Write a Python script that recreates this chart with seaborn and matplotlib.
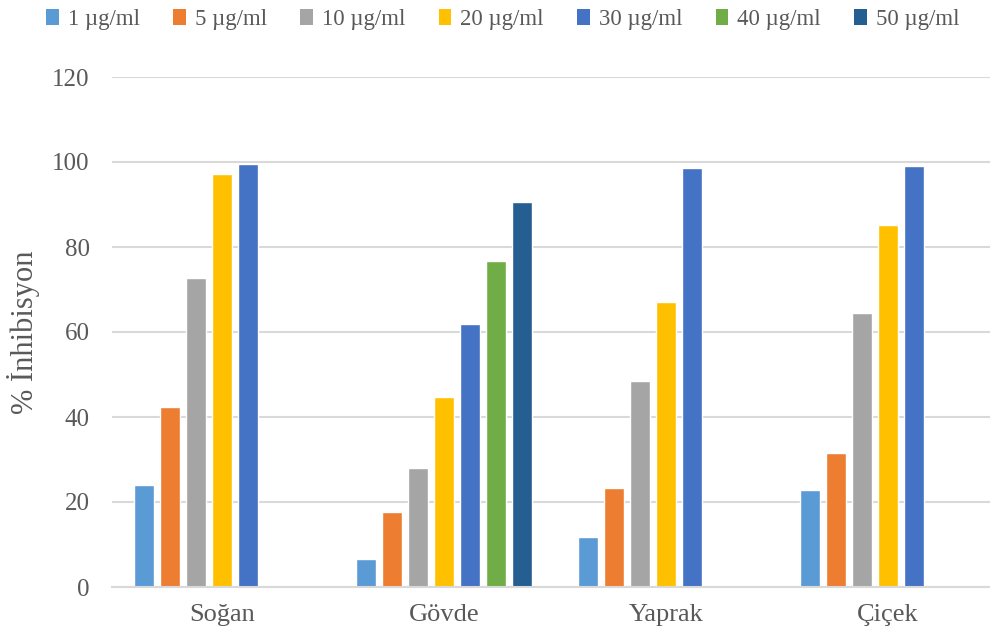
import matplotlib
matplotlib.use("Agg")
import matplotlib.pyplot as plt
from matplotlib.patches import Patch
import numpy as np
import pandas as pd
import seaborn as sns

categories = ["Soğan", "Gövde", "Yaprak", "Çiçek"]
doses = ["1 µg/ml", "5 µg/ml", "10 µg/ml", "20 µg/ml", "30 µg/ml", "40 µg/ml", "50 µg/ml"]

# % inhibition per plant part; NaN where a dose was not tested
dose_1 = [24.0, 6.5, 11.8, 22.9]
dose_5 = [42.3, 17.6, 23.3, 31.5]
dose_10 = [72.8, 27.9, 48.5, 64.5]
dose_20 = [97.1, 44.6, 67.1, 85.2]
dose_30 = [99.5, 61.8, 98.7, 99.1]
dose_40 = [np.nan, 76.7, np.nan, np.nan]
dose_50 = [np.nan, 90.6, np.nan, np.nan]

colors = ["#5B9BD5", "#ED7D31", "#A5A5A5", "#FFC000", "#4472C4", "#70AD47", "#255E91"]

series = [dose_1, dose_5, dose_10, dose_20, dose_30, dose_40, dose_50]
rows = []
for dose, vals in zip(doses, series):
    for cat, v in zip(categories, vals):
        rows.append({"Bölüm": cat, "Doz": dose, "İnhibisyon": v})
df = pd.DataFrame(rows)

sns.set_theme(style="white")
plt.rcParams["font.family"] = ["Liberation Serif", "DejaVu Serif"]

fig = plt.figure(figsize=(9.9, 6.42), dpi=100)
ax = fig.add_axes([112 / 990, 55 / 642, (990 - 112) / 990, 510 / 642])

sns.barplot(data=df, x="Bölüm", y="İnhibisyon", hue="Doz", order=categories,
            hue_order=doses, palette=colors, width=0.82, gap=0.22,
            saturation=1, errorbar=None, legend=False, ax=ax)

ax.set_ylim(0, 120)
ax.set_yticks(np.arange(0, 121, 20))
ax.set_xlim(-0.495, 3.459)
ax.grid(axis="y", color="#D9D9D9", linewidth=1.5)
ax.set_axisbelow(True)
for side in ["top", "right", "left"]:
    ax.spines[side].set_visible(False)
ax.spines["bottom"].set_color("#D9D9D9")
ax.spines["bottom"].set_linewidth(1.5)
ax.tick_params(axis="both", length=0, colors="#595959")
ax.tick_params(axis="y", pad=16, labelsize=18)
ax.tick_params(axis="x", pad=12, labelsize=19)
ax.set_xlabel("")
ax.set_ylabel("% İnhibisyon", fontsize=22, color="#595959", labelpad=9)

handles = [Patch(facecolor=c, edgecolor="none") for c in colors]
fig.legend(handles, doses, loc="upper center", bbox_to_anchor=(0.508, 1.018), ncol=7,
           frameon=False, fontsize=16.5, handlelength=0.55, handleheight=0.68,
           handletextpad=0.4, columnspacing=1.45, labelcolor="#595959")

fig.savefig("out.png", dpi=100, facecolor="white")
